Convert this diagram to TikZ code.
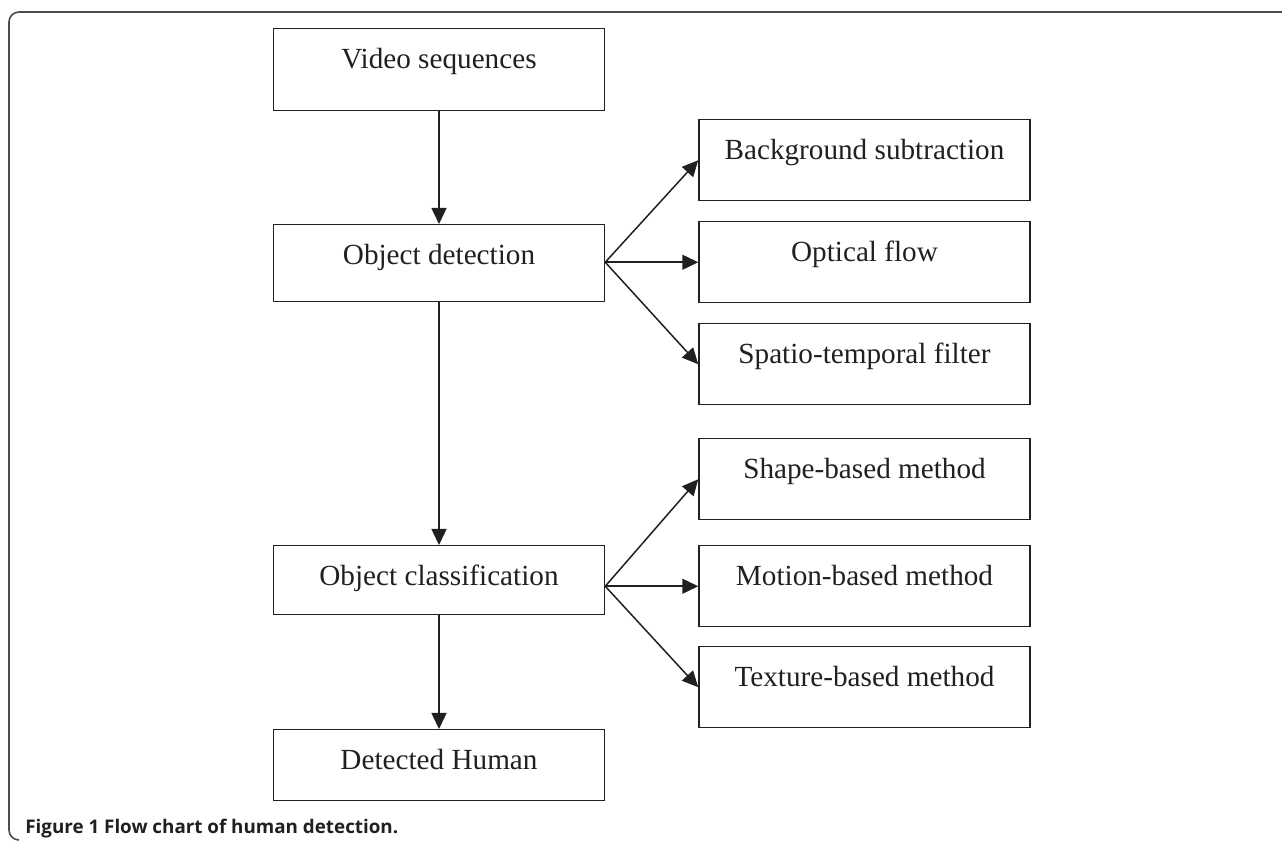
\documentclass[tikz,border=0pt]{standalone}
\usepackage{fontspec}
\setmainfont{Liberation Serif}
\newfontfamily\captionfont{Open Sans}
\usetikzlibrary{arrows.meta}
\definecolor{ink}{RGB}{35,31,32}

\begin{document}
\begin{tikzpicture}[x=0.5pt, y=-0.5pt,
    stage/.style={draw=ink, text=ink, line width=0.75pt, inner sep=0pt,
      minimum width=165.5pt, anchor=north, font=\fontsize{14.6}{17}\selectfont,
      text height=20pt, text depth=#1},
    stage/.default=20.5pt,
    flow/.style={draw=ink, line width=0.75pt, -{Triangle[length=8pt, width=7.5pt]}}]

    \useasboundingbox (0,0) rectangle (1282,844);

    % Frame
    \draw[gray!60!black, line width=0.8pt, rounded corners=5pt]
    (1282,12) -- (9,12) -- (9,840) -- (19,840);

    % Main chain
    \node[stage=21pt] (video) at (439,28) {Video sequences};
    \node[stage=18.5pt] (detect) at (439,224) {Object detection};
    \node[stage=14.5pt] (classify) at (439,545) {Object classification};
    \node[stage=15.5pt] (human) at (439,729) {Detected Human};

    % Detection methods
    \node[stage] (bgsub) at (864.5,119) {Background subtraction};
    \node[stage] (optflow) at (864.5,221) {Optical flow};
    \node[stage] (stfilter) at (864.5,323) {Spatio-temporal filter};

    % Classification methods
    \node[stage] (shape) at (864.5,438) {Shape-based method};
    \node[stage] (motion) at (864.5,545) {Motion-based method};
    \node[stage] (texture) at (864.5,646) {Texture-based method};

    % Fork points
    \coordinate (fork1) at (detect.east |- optflow.west);
    \coordinate (fork2) at (classify.east |- motion.west);

    % Arrows
    \draw[flow] (video) -- (detect);
    \draw[flow] (detect) -- (classify);
    \draw[flow] (classify) -- (human);
    \draw[flow] (fork1) -- (bgsub.west);
    \draw[flow] (fork1) -- (optflow.west);
    \draw[flow] (fork1) -- (stfilter.west);
    \draw[flow] (fork2) -- (shape.west);
    \draw[flow] (fork2) -- (motion.west);
    \draw[flow] (fork2) -- (texture.west);

    % Caption
    \node[anchor=west, inner sep=0pt, text=ink, font=\captionfont\bfseries\fontsize{9.4}{11}\selectfont]
    (caption) at (25,829) {Figure 1 Flow chart of human detection.};

\end{tikzpicture}
\end{document}
